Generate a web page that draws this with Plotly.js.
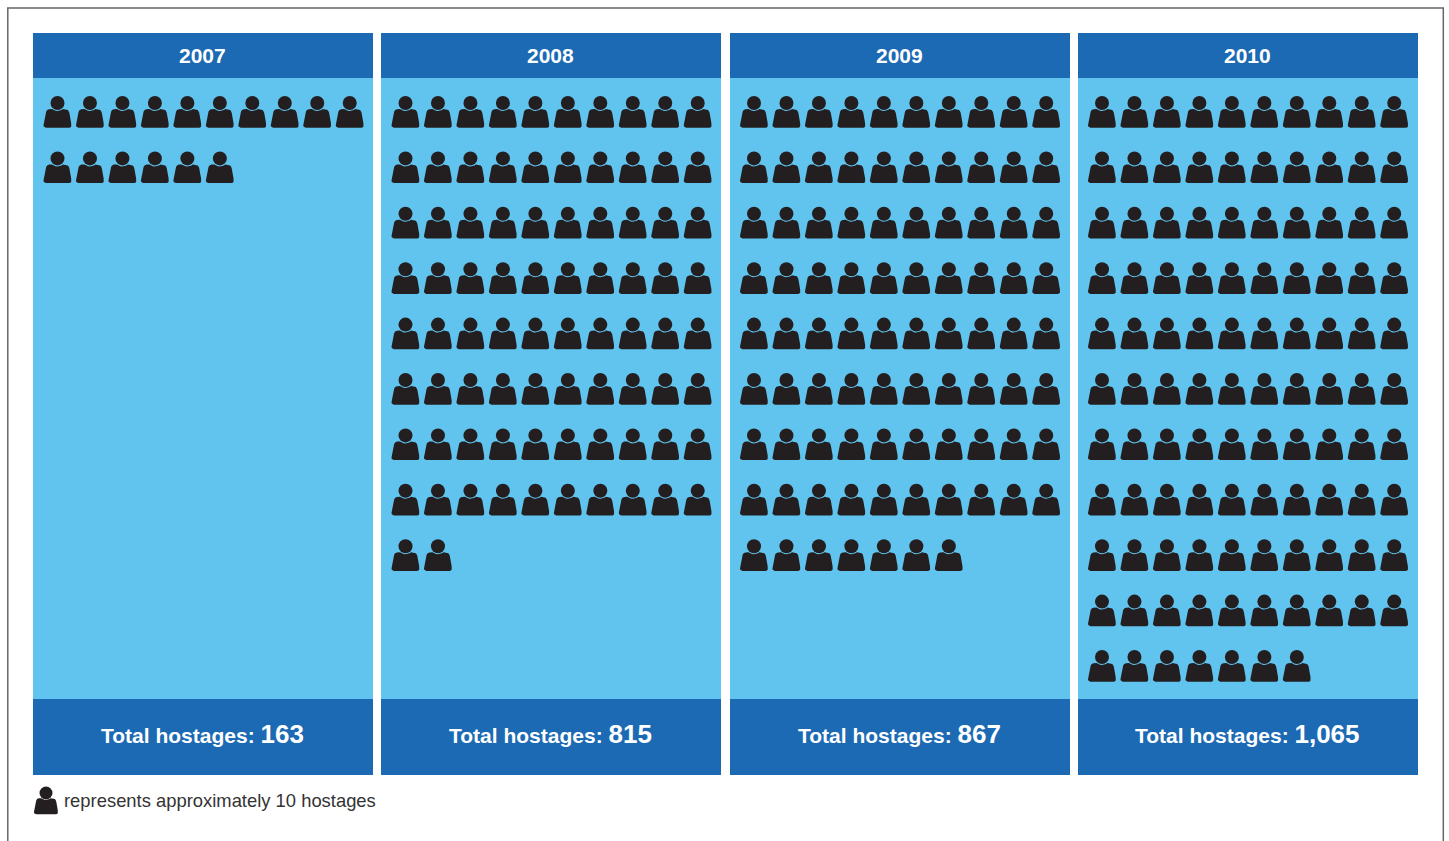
<!DOCTYPE html>
<html>
<head>
<meta charset="utf-8">
<script src="https://cdn.plot.ly/plotly-3.0.1.min.js"></script>
<style>html,body{margin:0;padding:0;background:#fff;overflow:hidden}#chart{width:1449px;height:841px}</style>
</head>
<body>
<div id="chart"></div>
<script>
// Data
const years = ["2007", "2008", "2009", "2010"];
const totalHostages = [163, 815, 867, 1065];
const totalLabels = ["163", "815", "867", "1,065"];
const iconCounts = [16, 82, 87, 107]; // one icon per ~10 hostages
const iconsPerRow = 10;
const legendText = "represents approximately 10 hostages";

// Style and layout
const W = 1449, H = 841;
const DARK = "#1c6ab4", LIGHT = "#61c4ef", ICON = "#231f20";
const FONT = '"Liberation Sans", Arial, sans-serif';
const panelLeft = [33, 381, 730, 1078];
const panelWidth = 340;
const panelTop = 33, headerBottom = 78, footerTop = 699, panelBottom = 775;
const pitchX = 32.47, pitchY = 55.4;
const firstXByPanel = [24.5, 24.5, 24, 24]; // first icon offset inside each panel
const firstY = 25;

// Icon body outline, px relative to the head centre (top edge hugs the head with a thin gap)
const bodyOutline = [
  [-5.5,6],[-4,7],[-2,7.8],[0,8],[2,7.8],[4,7],[5.5,6],[8.6,6.2],[10.3,7],[11.3,8.4],[11.9,10],
  [13.7,20.2],[14,22.2],[13.7,23.5],[12.8,24.4],[11.6,24.7],
  [-11.6,24.7],[-12.8,24.4],[-13.7,23.5],[-14,22.2],[-13.7,20.2],
  [-11.9,10],[-11.3,8.4],[-10.3,7],[-8.6,6.2],[-5.5,6]
];

const px = v => v / W;
const py = v => 1 - v / H;

function iconTraces(count, ax, ay, dx, dy, scale, headSize) {
  const hx = [], hy = [], bx = [], by = [];
  for (let i = 0; i < count; i++) {
    const c = i % iconsPerRow, r = Math.floor(i / iconsPerRow);
    hx.push(c); hy.push(r);
    bodyOutline.forEach(p => { bx.push(c + p[0] * scale / dx); by.push(r + p[1] * scale / dy); });
    bx.push(null); by.push(null);
  }
  return [
    { type: "scatter", mode: "lines", x: bx, y: by, xaxis: ax, yaxis: ay, fill: "toself",
      fillcolor: ICON, line: { width: 0, color: ICON }, hoverinfo: "skip", showlegend: false },
    { type: "scatter", mode: "markers", x: hx, y: hy, xaxis: ax, yaxis: ay,
      marker: { symbol: "circle", size: headSize, color: ICON, line: { color: "rgba(0,0,0,0)", width: 0 } },
      hoverinfo: "skip", showlegend: false }
  ];
}

const traces = [];
const layout = {
  width: W, height: H, margin: { l: 0, r: 0, t: 0, b: 0 },
  paper_bgcolor: "#ffffff", plot_bgcolor: "rgba(0,0,0,0)", showlegend: false,
  font: { family: FONT }, shapes: [], annotations: []
};
const hiddenAxis = { showgrid: false, zeroline: false, showticklabels: false, ticks: "", showline: false, fixedrange: true };

years.forEach((year, i) => {
  const n = i + 1, xn = "xaxis" + (n === 1 ? "" : n), yn = "yaxis" + (n === 1 ? "" : n);
  const ax = "x" + (n === 1 ? "" : n), ay = "y" + (n === 1 ? "" : n);
  const L = panelLeft[i], R = L + panelWidth, cx = (L + R) / 2;
  const firstX = firstXByPanel[i];
  layout[xn] = Object.assign({}, hiddenAxis, {
    domain: [px(L), px(R)], anchor: ay,
    range: [-firstX / pitchX, (panelWidth - firstX) / pitchX]
  });
  layout[yn] = Object.assign({}, hiddenAxis, {
    domain: [py(footerTop), py(headerBottom)], anchor: ax,
    range: [(footerTop - headerBottom - firstY) / pitchY, -firstY / pitchY]
  });
  traces.push(...iconTraces(iconCounts[i], ax, ay, pitchX, pitchY, 1, 14));
  layout.shapes.push({ type: "rect", xref: "paper", yref: "paper", x0: px(L), x1: px(R),
    y0: py(footerTop), y1: py(headerBottom), fillcolor: LIGHT, line: { width: 0 }, layer: "below" });
  [[panelTop, headerBottom], [footerTop, panelBottom]].forEach(b => {
    layout.shapes.push({ type: "rect", xref: "paper", yref: "paper", x0: px(L), x1: px(R),
      y0: py(b[1]), y1: py(b[0]), fillcolor: DARK, line: { width: 0 }, layer: "above" });
  });
  layout.annotations.push({ xref: "paper", yref: "paper", x: px(cx - 0.5), y: py(55), text: "<b>" + year + "</b>",
    showarrow: false, xanchor: "center", yanchor: "middle", font: { family: FONT, size: 21, color: "#fff" } });
  layout.annotations.push({ xref: "paper", yref: "paper", x: px(cx - 0.5), y: py(734),
    text: "<b>Total hostages: <span style=\"font-size:26px\">" + totalLabels[i] + "</span></b>",
    showarrow: false, xanchor: "center", yanchor: "middle", font: { family: FONT, size: 21, color: "#fff" } });
});

// Legend icon on its own small axes
layout.xaxis5 = Object.assign({}, hiddenAxis, { domain: [px(30), px(62)], anchor: "y5", range: [-16, 16] });
layout.yaxis5 = Object.assign({}, hiddenAxis, { domain: [py(818), py(782)], anchor: "x5", range: [25, -11] });
traces.push(...iconTraces(1, "x5", "y5", 1, 1, 0.86, 13));
layout.annotations.push({ xref: "paper", yref: "paper", x: px(62), y: py(800), text: legendText, showarrow: false,
  xanchor: "left", yanchor: "middle", font: { family: FONT, size: 18.4, color: "#333333" } });

// Outer frame, running off the bottom of the page
layout.shapes.push({ type: "rect", xref: "paper", yref: "paper", x0: px(7.8), x1: px(1443.3), y0: py(850), y1: py(8),
  fillcolor: "rgba(0,0,0,0)", line: { color: "#666666", width: 1.5 }, layer: "below" });

Plotly.newPlot("chart", traces, layout, { displayModeBar: false, staticPlot: true });
</script>
</body>
</html>
